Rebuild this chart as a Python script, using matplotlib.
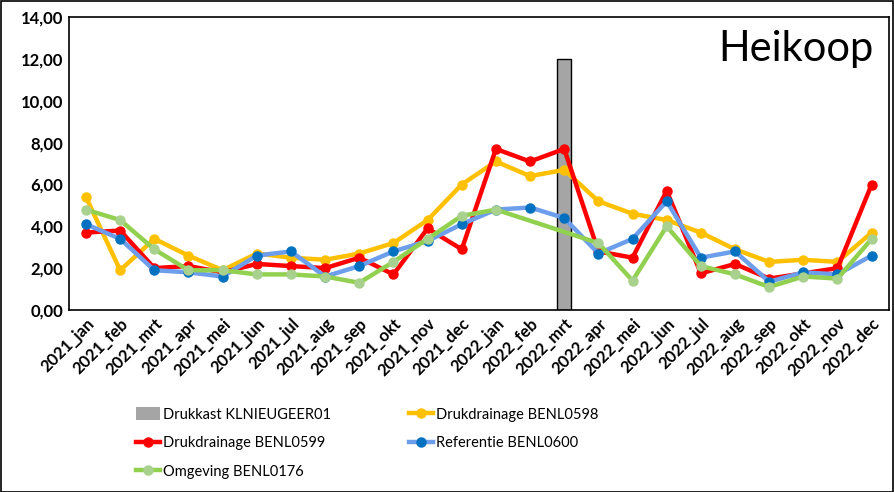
import matplotlib
matplotlib.use("Agg")
import matplotlib.pyplot as plt
from matplotlib.patches import Patch
import numpy as np

plt.rcParams['font.family'] = ['Lato', 'DejaVu Sans']

months = ["jan", "feb", "mrt", "apr", "mei", "jun", "jul", "aug", "sep", "okt", "nov", "dec"]
labels = [f"{y}_{m}" for y in (2021, 2022) for m in months]

# Drukkast only has a reading in 2022_mrt
drukkast = [np.nan] * 14 + [12.0] + [np.nan] * 9

benl0598 = [5.4, 1.9, 3.4, 2.6, 1.9, 2.7, 2.5, 2.4, 2.7, 3.2, 4.3, 6.0,
            7.1, 6.4, 6.7, 5.2, 4.6, 4.3, 3.7, 2.9, 2.3, 2.4, 2.3, 3.7]
benl0599 = [3.7, 3.8, 2.0, 2.1, 1.8, 2.2, 2.1, 2.0, 2.5, 1.7, 3.9, 2.9,
            7.7, 7.1, 7.7, 2.8, 2.5, 5.7, 1.75, 2.2, 1.5, 1.75, 2.0, 6.0]
benl0600 = [4.1, 3.4, 1.9, 1.8, 1.6, 2.6, 2.8, 1.6, 2.1, 2.8, 3.3, 4.1,
            4.8, 4.9, 4.4, 2.7, 3.4, 5.2, 2.5, 2.8, 1.35, 1.8, 1.7, 2.6]
benl0176 = [4.8, 4.3, 2.9, 1.9, 1.9, 1.7, 1.7, 1.6, 1.3, 2.3, 3.4, 4.5,
            4.8, np.nan, np.nan, 3.2, 1.4, 4.0, 2.1, 1.7, 1.1, 1.6, 1.5, 3.4]

x = np.arange(len(labels))

fig = plt.figure(figsize=(8.95, 4.92), dpi=100)
ax = fig.add_axes([0.077, 0.370, 0.916, 0.595])

ax.bar(x, drukkast, width=0.4, color="#a5a5a5", edgecolor="black",
       linewidth=1.0, zorder=1)


def line(vals, lc, mc, name):
    v = np.array(vals, dtype=float)
    ok = ~np.isnan(v)
    h, = ax.plot(x[ok], v[ok], color=lc, lw=3.2, marker="o", ms=6.5,
                 mfc=mc, mec=mc, label=name, zorder=3)
    return h


h98 = line(benl0598, "#ffc000", "#ffc000", "Drukdrainage BENL0598")
h99 = line(benl0599, "#ff0000", "#ff0000", "Drukdrainage BENL0599")
h00 = line(benl0600, "#6d9eeb", "#0070c0", "Referentie BENL0600")
h76 = line(benl0176, "#92d050", "#a9d18e", "Omgeving BENL0176")
hbar = Patch(facecolor="#a5a5a5", edgecolor="none", label="Drukkast KLNIEUGEER01")

ax.set_xlim(-0.5, len(labels) - 0.5)
ax.set_ylim(0, 14)
ax.set_yticks(np.arange(0, 15, 2))
ax.set_yticklabels([f"{v:.2f}".replace(".", ",") for v in np.arange(0, 15, 2)],
                   fontsize=12, fontweight="bold")
ax.set_xticks(x)
ax.set_xticklabels(labels, rotation=45, ha="right", rotation_mode="anchor",
                   fontsize=12, fontweight="bold")
ax.tick_params(length=0, pad=4)
for s in ax.spines.values():
    s.set_linewidth(1.2)

ax.text(0.981, 0.955, "Heikoop", transform=ax.transAxes, ha="right", va="top",
        fontsize=30)

handles = [hbar, h99, h76, h98, h00]
fig.legend(handles, [h.get_label() for h in handles],
           ncol=2, loc="lower left", bbox_to_anchor=(0.137, 0.0), frameon=False,
           fontsize=10.5, handlelength=1.65, handleheight=0.9, handletextpad=0.25,
           columnspacing=5.3, labelspacing=1.0)

# chart border
fig.patches.append(plt.Rectangle((0.001, 0.001), 0.997, 0.997, transform=fig.transFigure,
                                 fill=False, edgecolor="black", linewidth=1.2))

fig.savefig("out.png", dpi=100)
